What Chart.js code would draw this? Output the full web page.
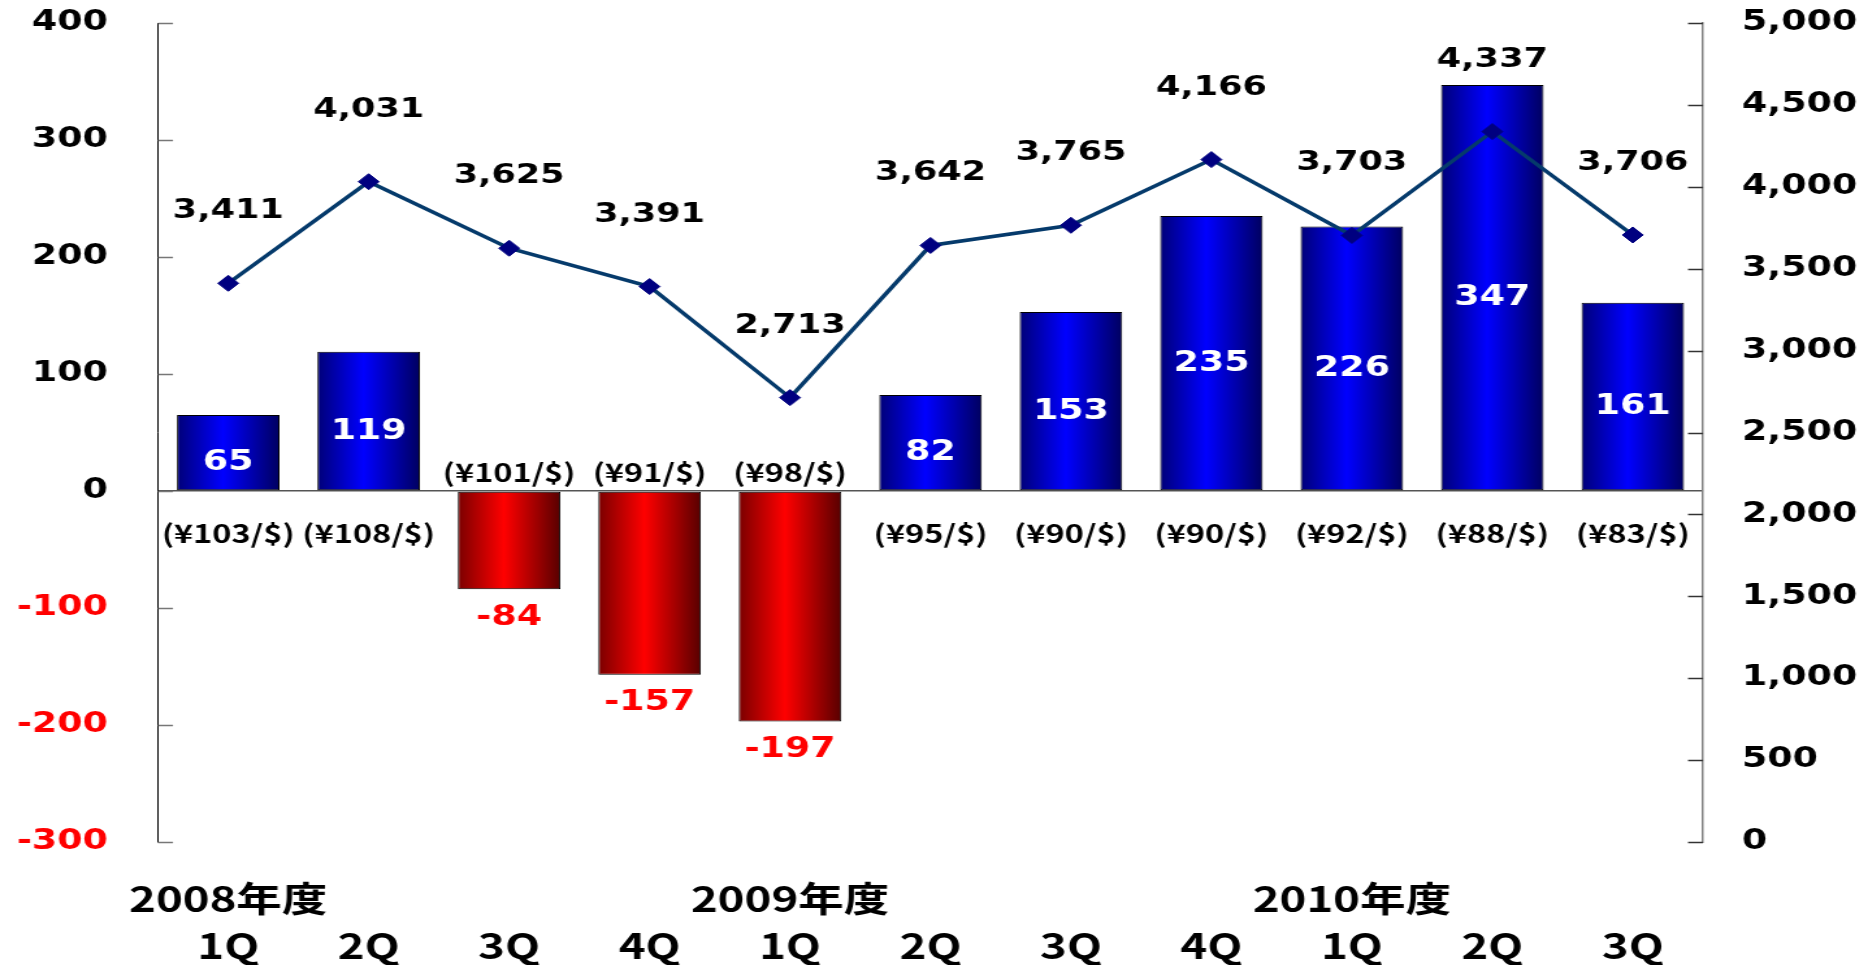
<!DOCTYPE html>
<html lang="ja">
<head>
<meta charset="utf-8">
<title>四半期 営業利益・売上高</title>
<script src="https://cdn.jsdelivr.net/npm/chart.js@4.4.1/dist/chart.umd.min.js"></script>
<style>
  html, body { margin: 0; padding: 0; background: #fff; overflow: hidden; }
  #chart { display: block; }
</style>
</head>
<body>
<canvas id="chart" height="965"></canvas>
<script>
// categories
const yearLabels = ['2008年度', '', '', '', '2009年度', '', '', '', '2010年度', '', ''];
const quarterLabels = ['1Q', '2Q', '3Q', '4Q', '1Q', '2Q', '3Q', '4Q', '1Q', '2Q', '3Q'];

// bars (left axis) and line (right axis)
const profitValues = [65, 119, -84, -157, -197, 82, 153, 235, 226, 347, 161];
const salesValues = [3411, 4031, 3625, 3391, 2713, 3642, 3765, 4166, 3703, 4337, 3706];

// exchange rate per quarter
const rateLabels = ['(¥103/$)', '(¥108/$)', '(¥101/$)', '(¥91/$)', '(¥98/$)', '(¥95/$)',
                    '(¥90/$)', '(¥90/$)', '(¥92/$)', '(¥88/$)', '(¥83/$)'];

// axis ticks
const leftTicks = [400, 300, 200, 100, 0, -100, -200, -300];
const rightTicks = [5000, 4500, 4000, 3500, 3000, 2500, 2000, 1500, 1000, 500, 0];

// the original picture is stretched sideways, so draw narrow and widen with css
const STRETCH = 1.3;
const canvas = document.getElementById('chart');
canvas.width = Math.round(1868 / STRETCH);
canvas.style.width = '1868px';
canvas.style.height = '965px';

const BAR_PCT = 0.73;
const NUM_FONT = '"DejaVu Sans", Verdana, sans-serif';
const JP_FONT = '"Noto Sans CJK JP", sans-serif';

// horizontal gradient, dark edges and bright middle
function barFill(context) {
    const chart = context.chart;
    const xs = chart.scales.x;
    const neg = context.raw < 0;
    if (!chart.chartArea || !xs) return neg ? '#e00000' : '#0000e0';
    const cx = xs.getPixelForValue(context.dataIndex);
    const half = xs.width / profitValues.length * BAR_PCT / 2;
    const g = chart.ctx.createLinearGradient(cx - half, 0, cx + half, 0);
    if (neg) {
        g.addColorStop(0, '#7a0000');
        g.addColorStop(0.45, '#ff0000');
        g.addColorStop(1, '#580000');
    } else {
        g.addColorStop(0, '#000078');
        g.addColorStop(0.45, '#0000ff');
        g.addColorStop(1, '#000060');
    }
    return g;
}

// tick marks pointing into the plot
const innerTicks = {
    id: 'innerTicks',
    afterDraw(chart) {
        const ctx = chart.ctx;
        const len = 15 / STRETCH;
        ctx.save();
        ctx.lineWidth = 1.5;
        const l = chart.scales.yLeft;
        ctx.strokeStyle = '#777';
        l.ticks.forEach(t => {
            const y = Math.round(l.getPixelForValue(t.value)) + 0.5;
            ctx.beginPath();
            ctx.moveTo(l.right, y);
            ctx.lineTo(l.right + len, y);
            ctx.stroke();
        });
        const r = chart.scales.yRight;
        ctx.strokeStyle = '#333';
        r.ticks.forEach(t => {
            const y = Math.round(r.getPixelForValue(t.value)) + 0.5;
            ctx.beginPath();
            ctx.moveTo(r.left, y);
            ctx.lineTo(r.left - len, y);
            ctx.stroke();
        });
        ctx.restore();
    }
};

// value, rate and sales labels
const valueLabels = {
    id: 'valueLabels',
    afterDatasetsDraw(chart) {
        const ctx = chart.ctx;
        const zeroY = chart.scales.yLeft.getPixelForValue(0);
        const bars = chart.getDatasetMeta(0).data;
        const points = chart.getDatasetMeta(1).data;
        ctx.save();
        ctx.textAlign = 'center';
        ctx.textBaseline = 'middle';

        bars.forEach((bar, i) => {
            const v = profitValues[i];
            ctx.font = 'bold 28px ' + NUM_FONT;
            if (v >= 0) {
                ctx.fillStyle = '#ffffff';
                const y = Math.min((bar.y + zeroY) / 2 + 10, zeroY - 28);
                ctx.fillText(String(v), bar.x, y);
            } else {
                ctx.fillStyle = '#ff0000';
                ctx.fillText(String(v), bar.x, bar.y + 28);
            }
            ctx.font = 'bold 25px ' + JP_FONT;
            ctx.fillStyle = '#000000';
            ctx.fillText(rateLabels[i], bar.x, v >= 0 ? zeroY + 42 : zeroY - 19);
        });

        ctx.font = 'bold 27px ' + NUM_FONT;
        ctx.fillStyle = '#000000';
        points.forEach((pt, i) => {
            ctx.fillText(salesValues[i].toLocaleString('en-US'), pt.x, pt.y - 72);
        });
        ctx.restore();
    }
};

// keep the plot edges where the reference has them
function fixLeft(s) {
    s.width = 158 / STRETCH;
    s.paddingTop = 0;
    s.paddingBottom = 0;
}
function fixRight(s) {
    s.width = (1868 - 1703) / STRETCH;
    s.paddingTop = 0;
    s.paddingBottom = 0;
}

new Chart(canvas, {
    data: {
        labels: quarterLabels,
        datasets: [
            {
                type: 'bar',
                data: profitValues,
                yAxisID: 'yLeft',
                order: 1,
                backgroundColor: barFill,
                borderColor: '#000000',
                borderWidth: 1,
                borderSkipped: false,
                barPercentage: BAR_PCT,
                categoryPercentage: 1
            },
            {
                type: 'line',
                data: salesValues,
                yAxisID: 'yRight',
                order: 0,
                borderColor: '#053a6b',
                borderWidth: 3.5,
                tension: 0,
                pointStyle: 'rectRot',
                pointRadius: 8,
                pointBackgroundColor: '#000080',
                pointBorderColor: '#000080',
                pointBorderWidth: 1
            }
        ]
    },
    options: {
        responsive: false,
        devicePixelRatio: 1,
        animation: false,
        layout: { padding: { top: 23, right: 0, bottom: 0, left: 0 } },
        plugins: {
            legend: { display: false },
            tooltip: { enabled: false }
        },
        scales: {
            x: {
                grid: { display: false },
                border: { display: false },
                ticks: {
                    autoSkip: false,
                    maxRotation: 0,
                    padding: 25,
                    color: '#000000',
                    font: { family: JP_FONT, size: 35, weight: 'bold', lineHeight: 47 / 35 },
                    callback: (v, i) => [yearLabels[i], quarterLabels[i]]
                },
                afterFit: s => { s.height = 965 - 842; }
            },
            yLeft: {
                position: 'left',
                min: -300,
                max: 400,
                afterBuildTicks: s => { s.ticks = leftTicks.map(value => ({ value })); },
                afterFit: fixLeft,
                grid: {
                    drawTicks: false,
                    lineWidth: 1.5,
                    color: c => (c.tick && c.tick.value === 0 ? '#555555' : 'rgba(0,0,0,0)')
                },
                border: { display: true, color: '#000000', width: 1 },
                ticks: {
                    padding: 38.5,
                    font: { family: NUM_FONT, size: 28, weight: 'bold' },
                    color: c => (c.tick && c.tick.value < 0 ? '#ff0000' : '#000000')
                }
            },
            yRight: {
                position: 'right',
                min: 0,
                max: 5000,
                afterBuildTicks: s => { s.ticks = rightTicks.map(value => ({ value })); },
                afterFit: fixRight,
                grid: { drawTicks: false, drawOnChartArea: false, color: 'rgba(0,0,0,0)' },
                border: { display: true, color: '#808080', width: 1.5 },
                ticks: {
                    padding: 30,
                    color: '#000000',
                    font: { family: NUM_FONT, size: 28, weight: 'bold' },
                    callback: v => v.toLocaleString('en-US')
                }
            }
        }
    },
    plugins: [innerTicks, valueLabels]
});
</script>
</body>
</html>
